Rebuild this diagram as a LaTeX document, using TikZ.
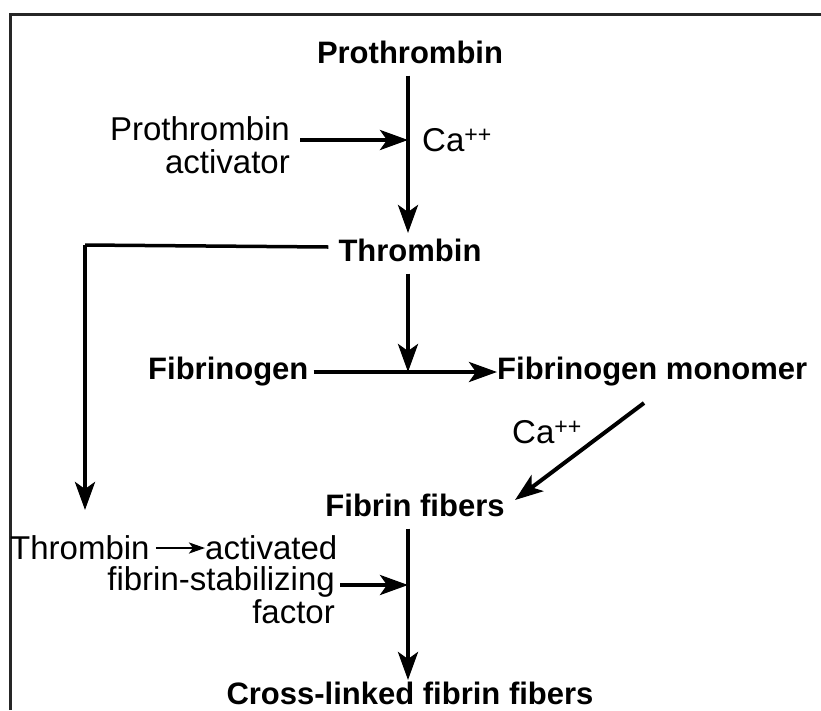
\documentclass[tikz,border=0pt]{standalone}
\usepackage{fontspec}
\setmainfont{Liberation Sans}
\usetikzlibrary{arrows.meta}
\begin{document}
\begin{tikzpicture}[x=1pt,y=-1pt,
  lbl/.style={inner sep=0pt, font=\fontsize{33}{33}\selectfont},
  blbl/.style={inner sep=0pt, font=\fontsize{31}{33}\selectfont\bfseries},
  arr/.style={line width=4pt, -{Stealth[length=28pt,width=20pt,inset=7pt]}},
  thinarr/.style={line width=2.5pt, -{Stealth[length=16pt,width=11pt,inset=4pt]}},
  ln/.style={line width=3.5pt}]
\useasboundingbox (0,0) rectangle (821,710);
\draw[line width=3pt, color=black!85] (10,710) -- (10,14) -- (821,14);
% nodes
\node[blbl] (pro) at (410,52) {Prothrombin};
\node[lbl, align=right, anchor=east] (act) at (290,145) {Prothrombin\\activator};
\node[lbl, anchor=west] (ca1) at (422,140) {Ca\textsuperscript{++}};
\node[blbl] (thr) at (410,250) {Thrombin};
\node[blbl, anchor=west] (fbg) at (148,372) {Fibrinogen};
\node[blbl, anchor=west] (mono) at (497,372) {Fibrinogen monomer};
\node[lbl] (ca2) at (547,432) {Ca\textsuperscript{++}};
\node[blbl] (fib) at (415,505) {Fibrin fibers};
\node[lbl, anchor=west] (thr2) at (10,548) {Thrombin};
\node[lbl, anchor=west] (actd) at (205,548) {activated};
\node[lbl, align=right, anchor=north east] (fsf) at (335,566) {fibrin-stabilizing\\factor};
\node[blbl] (cross) at (410,693) {Cross-linked fibrin fibers};
% coordinates
\coordinate (j1) at (408,140);
\coordinate (j2) at (408,372);
\coordinate (j3) at (408,585);
\coordinate (corner) at (85,245);
\coordinate (dd) at (85,510);
% connectors
\draw[arr] (pro.south -| j1) ++(0,12) -- (408,233) coordinate (t1);
\draw[arr] (act.east |- j1) ++(10,0) -- (j1);
\draw[arr] (thr.south -| j2) ++(0,12) -- (j2);
\draw[arr] (fbg.east) ++(5,0) -- (mono.west);
\draw[arr] (644,403) -- (515,500);
\draw[ln] (thr.west) ++(-10,-3) -- (corner);
\draw[arr] (corner) -- (dd);
\draw[thinarr] (thr2.east) ++(6,0) -- (actd.west);
\draw[arr] (fsf.east |- j3) ++(5,0) -- (j3);
\draw[arr] (fib.south -| j3) ++(0,12) -- (408,680);
\end{tikzpicture}
\end{document}
